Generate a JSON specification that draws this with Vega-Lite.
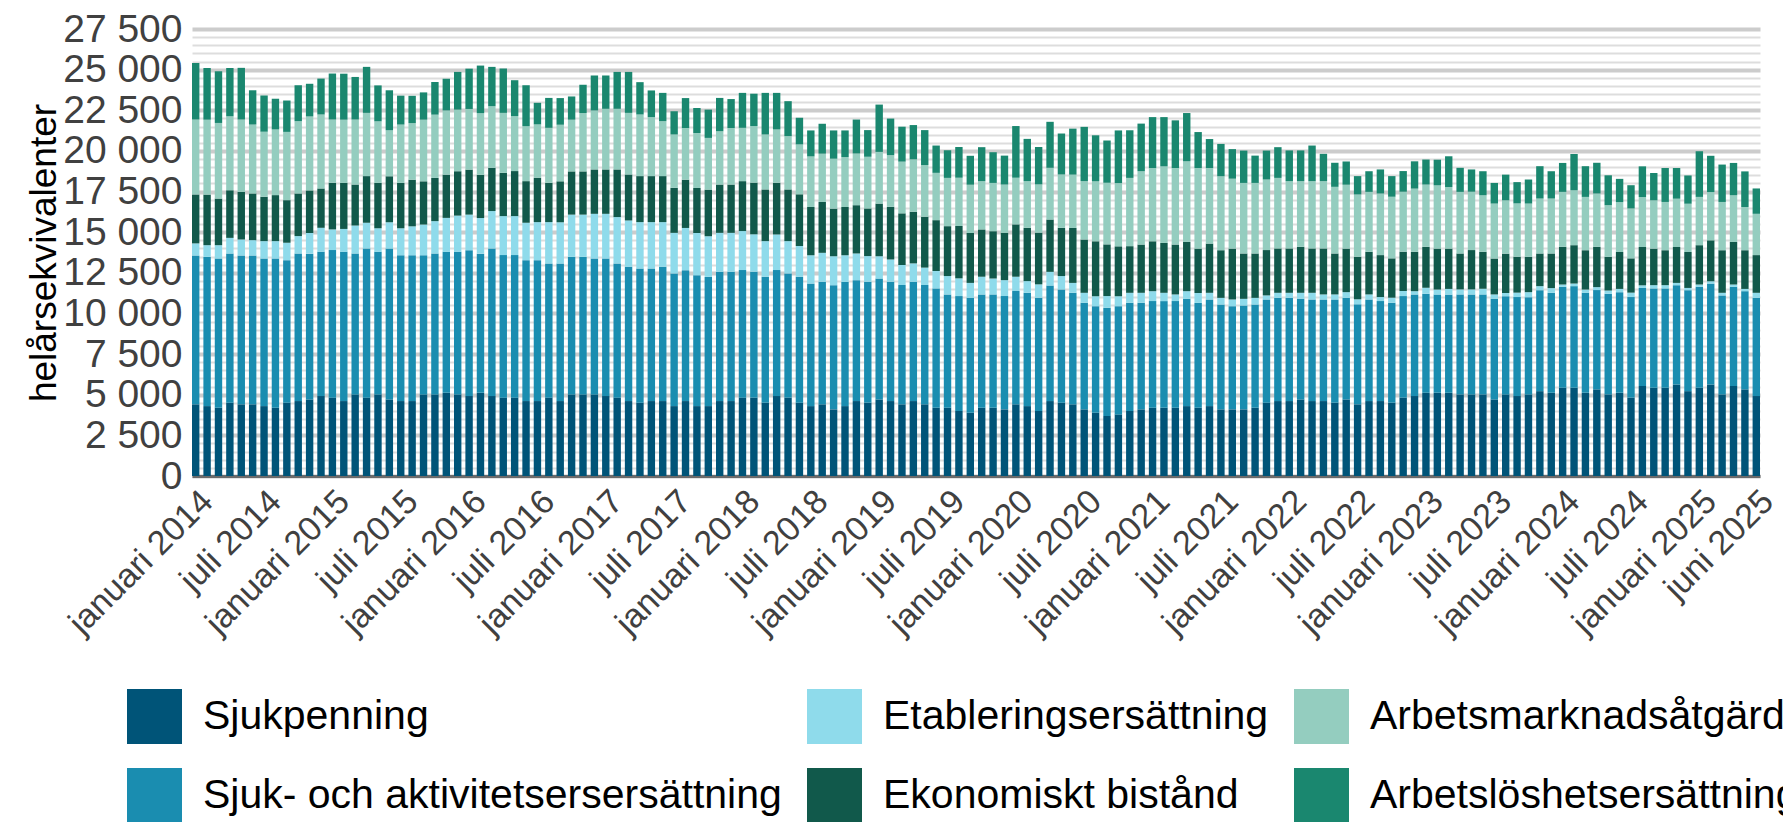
{
  "$schema": "https://vega.github.io/schema/vega-lite/v6.json",
  "autosize": {"type": "none"},
  "width": 1568,
  "height": 447,
  "padding": {"left": 192, "top": 29, "right": 23, "bottom": 346},
  "config": {
    "font": "Liberation Sans",
    "view": {"stroke": null},
    "legend": {"padding": 0}
  },
  "datasets": {
    "ordning": [
      {"serie": "Sjukpenning", "rang": 1},
      {"serie": "Sjuk- och aktivitetsersersättning", "rang": 2},
      {"serie": "Etableringsersättning", "rang": 3},
      {"serie": "Ekonomiskt bistånd", "rang": 4},
      {"serie": "Arbetsmarknadsåtgärder", "rang": 5},
      {"serie": "Arbetslöshetsersättning", "rang": 6}
    ]
  },
  "data": {"values": [
    {"m":"2014-01","Sjukpenning":4410,"Sjuk- och aktivitetsersersättning":9160,"Etableringsersättning":740,"Ekonomiskt bistånd":3010,"Arbetsmarknadsåtgärder":4610,"Arbetslöshetsersättning":3480},
    {"m":"2014-02","Sjukpenning":4300,"Sjuk- och aktivitetsersersättning":9180,"Etableringsersättning":720,"Ekonomiskt bistånd":3110,"Arbetsmarknadsåtgärder":4610,"Arbetslöshetsersättning":3180},
    {"m":"2014-03","Sjukpenning":4200,"Sjuk- och aktivitetsersersättning":9180,"Etableringsersättning":820,"Ekonomiskt bistånd":2870,"Arbetsmarknadsåtgärder":4650,"Arbetslöshetsersättning":3180},
    {"m":"2014-04","Sjukpenning":4510,"Sjuk- och aktivitetsersersättning":9180,"Etableringsersättning":960,"Ekonomiskt bistånd":2930,"Arbetsmarknadsåtgärder":4550,"Arbetslöshetsersättning":2970},
    {"m":"2014-05","Sjukpenning":4410,"Sjuk- och aktivitetsersersättning":9160,"Etableringsersättning":980,"Ekonomiskt bistånd":2930,"Arbetsmarknadsåtgärder":4450,"Arbetslöshetsersättning":3180},
    {"m":"2014-06","Sjukpenning":4410,"Sjuk- och aktivitetsersersättning":9160,"Etableringsersättning":940,"Ekonomiskt bistånd":2870,"Arbetsmarknadsåtgärder":4240,"Arbetslöshetsersättning":2110},
    {"m":"2014-07","Sjukpenning":4300,"Sjuk- och aktivitetsersersättning":9080,"Etableringsersättning":1070,"Ekonomiskt bistånd":2730,"Arbetsmarknadsåtgärder":4000,"Arbetslöshetsersättning":2230},
    {"m":"2014-08","Sjukpenning":4200,"Sjuk- och aktivitetsersersättning":9180,"Etableringsersättning":1070,"Ekonomiskt bistånd":2830,"Arbetsmarknadsåtgärder":4040,"Arbetslöshetsersättning":1890},
    {"m":"2014-09","Sjukpenning":4510,"Sjuk- och aktivitetsersersättning":8770,"Etableringsersättning":1070,"Ekonomiskt bistånd":2620,"Arbetsmarknadsåtgärder":4200,"Arbetslöshetsersättning":1930},
    {"m":"2014-10","Sjukpenning":4610,"Sjuk- och aktivitetsersersättning":9080,"Etableringsersättning":1070,"Ekonomiskt bistånd":2620,"Arbetsmarknadsåtgärder":4450,"Arbetslöshetsersättning":2210},
    {"m":"2014-11","Sjukpenning":4710,"Sjuk- och aktivitetsersersättning":8970,"Etableringsersättning":1270,"Ekonomiskt bistånd":2620,"Arbetsmarknadsåtgärder":4550,"Arbetslöshetsersättning":2010},
    {"m":"2014-12","Sjukpenning":4920,"Sjuk- och aktivitetsersersättning":8870,"Etableringsersättning":1480,"Ekonomiskt bistånd":2420,"Arbetsmarknadsåtgärder":4550,"Arbetslöshetsersättning":2210},
    {"m":"2015-01","Sjukpenning":4820,"Sjuk- och aktivitetsersersättning":9080,"Etableringsersättning":1270,"Ekonomiskt bistånd":2870,"Arbetsmarknadsåtgärder":3890,"Arbetslöshetsersättning":2830},
    {"m":"2015-02","Sjukpenning":4610,"Sjuk- och aktivitetsersersättning":9180,"Etableringsersättning":1410,"Ekonomiskt bistånd":2830,"Arbetsmarknadsåtgärder":3890,"Arbetslöshetsersättning":2830},
    {"m":"2015-03","Sjukpenning":5020,"Sjuk- och aktivitetsersersättning":8670,"Etableringsersättning":1720,"Ekonomiskt bistånd":2520,"Arbetsmarknadsåtgärder":4000,"Arbetslöshetsersättning":2620},
    {"m":"2015-04","Sjukpenning":4820,"Sjuk- och aktivitetsersersättning":9180,"Etableringsersättning":1580,"Ekonomiskt bistånd":2870,"Arbetsmarknadsåtgärder":3890,"Arbetslöshetsersättning":2830},
    {"m":"2015-05","Sjukpenning":5020,"Sjuk- och aktivitetsersersättning":8770,"Etableringsersättning":1450,"Ekonomiskt bistånd":2790,"Arbetsmarknadsåtgärder":3790,"Arbetslöshetsersättning":2210},
    {"m":"2015-06","Sjukpenning":4710,"Sjuk- och aktivitetsersersättning":9280,"Etableringsersättning":1620,"Ekonomiskt bistånd":2830,"Arbetsmarknadsåtgärder":2830,"Arbetslöshetsersättning":2460},
    {"m":"2015-07","Sjukpenning":4610,"Sjuk- och aktivitetsersersättning":8970,"Etableringsersättning":1660,"Ekonomiskt bistånd":2790,"Arbetsmarknadsåtgärder":3590,"Arbetslöshetsersättning":1780},
    {"m":"2015-08","Sjukpenning":4610,"Sjuk- och aktivitetsersersättning":8970,"Etableringsersättning":1780,"Ekonomiskt bistånd":2870,"Arbetsmarknadsåtgärder":3480,"Arbetslöshetsersättning":1680},
    {"m":"2015-09","Sjukpenning":5020,"Sjuk- och aktivitetsersersättning":8560,"Etableringsersättning":1890,"Ekonomiskt bistånd":2660,"Arbetsmarknadsåtgärder":3790,"Arbetslöshetsersättning":1680},
    {"m":"2015-10","Sjukpenning":5020,"Sjuk- och aktivitetsersersättning":8670,"Etableringsersättning":1990,"Ekonomiskt bistånd":2660,"Arbetsmarknadsåtgärder":3890,"Arbetslöshetsersättning":2010},
    {"m":"2015-11","Sjukpenning":5120,"Sjuk- och aktivitetsersersättning":8670,"Etableringsersättning":2090,"Ekonomiskt bistånd":2660,"Arbetsmarknadsåtgärder":3950,"Arbetslöshetsersättning":1950},
    {"m":"2015-12","Sjukpenning":5020,"Sjuk- och aktivitetsersersättning":8770,"Etableringsersättning":2230,"Ekonomiskt bistånd":2730,"Arbetsmarknadsåtgärder":3790,"Arbetslöshetsersättning":2320},
    {"m":"2016-01","Sjukpenning":4920,"Sjuk- och aktivitetsersersättning":8970,"Etableringsersättning":2190,"Ekonomiskt bistånd":2770,"Arbetsmarknadsåtgärder":3730,"Arbetslöshetsersättning":2480},
    {"m":"2016-02","Sjukpenning":5120,"Sjuk- och aktivitetsersersättning":8560,"Etableringsersättning":2190,"Ekonomiskt bistånd":2660,"Arbetsmarknadsåtgärder":3790,"Arbetslöshetsersättning":2930},
    {"m":"2016-03","Sjukpenning":4920,"Sjuk- och aktivitetsersersättning":9080,"Etableringsersättning":2300,"Ekonomiskt bistånd":2660,"Arbetsmarknadsåtgärder":3790,"Arbetslöshetsersättning":2420},
    {"m":"2016-04","Sjukpenning":4820,"Sjuk- och aktivitetsersersättning":8770,"Etableringsersättning":2400,"Ekonomiskt bistånd":2660,"Arbetsmarknadsåtgärder":3690,"Arbetslöshetsersättning":2730},
    {"m":"2016-05","Sjukpenning":4820,"Sjuk- och aktivitetsersersättning":8770,"Etableringsersättning":2400,"Ekonomiskt bistånd":2770,"Arbetsmarknadsåtgärder":3380,"Arbetslöshetsersättning":2210},
    {"m":"2016-06","Sjukpenning":4610,"Sjuk- och aktivitetsersersättning":8670,"Etableringsersättning":2300,"Ekonomiskt bistånd":2560,"Arbetsmarknadsåtgärder":3380,"Arbetslöshetsersättning":2520},
    {"m":"2016-07","Sjukpenning":4610,"Sjuk- och aktivitetsersersättning":8670,"Etableringsersättning":2340,"Ekonomiskt bistånd":2730,"Arbetsmarknadsåtgärder":3280,"Arbetslöshetsersättning":1330},
    {"m":"2016-08","Sjukpenning":4820,"Sjuk- och aktivitetsersersättning":8260,"Etableringsersättning":2540,"Ekonomiskt bistånd":2420,"Arbetsmarknadsåtgärder":3380,"Arbetslöshetsersättning":1840},
    {"m":"2016-09","Sjukpenning":4610,"Sjuk- och aktivitetsersersättning":8460,"Etableringsersättning":2540,"Ekonomiskt bistånd":2520,"Arbetsmarknadsåtgärder":3480,"Arbetslöshetsersättning":1640},
    {"m":"2016-10","Sjukpenning":5020,"Sjuk- och aktivitetsersersättning":8460,"Etableringsersättning":2600,"Ekonomiskt bistånd":2660,"Arbetsmarknadsåtgärder":3180,"Arbetslöshetsersättning":1430},
    {"m":"2016-11","Sjukpenning":5020,"Sjuk- och aktivitetsersersättning":8460,"Etableringsersättning":2600,"Ekonomiskt bistånd":2660,"Arbetsmarknadsåtgärder":3590,"Arbetslöshetsersättning":1740},
    {"m":"2016-12","Sjukpenning":5020,"Sjuk- och aktivitetsersersättning":8360,"Etableringsersättning":2750,"Ekonomiskt bistånd":2730,"Arbetsmarknadsåtgärder":3630,"Arbetslöshetsersättning":2150},
    {"m":"2017-01","Sjukpenning":4920,"Sjuk- och aktivitetsersersättning":8460,"Etableringsersättning":2750,"Ekonomiskt bistånd":2730,"Arbetsmarknadsåtgärder":3730,"Arbetslöshetsersättning":2050},
    {"m":"2017-02","Sjukpenning":4820,"Sjuk- och aktivitetsersersättning":8260,"Etableringsersättning":2850,"Ekonomiskt bistånd":2930,"Arbetsmarknadsåtgärder":3730,"Arbetslöshetsersättning":2270},
    {"m":"2017-03","Sjukpenning":4610,"Sjuk- och aktivitetsersersättning":8260,"Etableringsersättning":2850,"Ekonomiskt bistånd":2830,"Arbetsmarknadsåtgärder":3790,"Arbetslöshetsersättning":2520},
    {"m":"2017-04","Sjukpenning":4510,"Sjuk- och aktivitetsersersättning":8260,"Etableringsersättning":2850,"Ekonomiskt bistånd":2830,"Arbetsmarknadsåtgärder":3790,"Arbetslöshetsersättning":1990},
    {"m":"2017-05","Sjukpenning":4610,"Sjuk- och aktivitetsersersättning":8160,"Etableringsersättning":2850,"Ekonomiskt bistånd":2830,"Arbetsmarknadsåtgärder":3630,"Arbetslöshetsersättning":1640},
    {"m":"2017-06","Sjukpenning":4610,"Sjuk- och aktivitetsersersättning":8260,"Etableringsersättning":2750,"Ekonomiskt bistånd":2830,"Arbetsmarknadsåtgärder":3380,"Arbetslöshetsersättning":1740},
    {"m":"2017-07","Sjukpenning":4300,"Sjuk- och aktivitetsersersättning":8160,"Etableringsersättning":2500,"Ekonomiskt bistånd":2770,"Arbetsmarknadsåtgärder":3280,"Arbetslöshetsersättning":1430},
    {"m":"2017-08","Sjukpenning":4610,"Sjuk- och aktivitetsersersättning":8050,"Etableringsersättning":2600,"Ekonomiskt bistånd":2970,"Arbetsmarknadsåtgärder":3180,"Arbetslöshetsersättning":1840},
    {"m":"2017-09","Sjukpenning":4300,"Sjuk- och aktivitetsersersättning":8050,"Etableringsersättning":2600,"Ekonomiskt bistånd":2770,"Arbetsmarknadsåtgärder":3380,"Arbetslöshetsersättning":1540},
    {"m":"2017-10","Sjukpenning":4300,"Sjuk- och aktivitetsersersättning":7950,"Etableringsersättning":2500,"Ekonomiskt bistånd":2870,"Arbetsmarknadsåtgärder":3180,"Arbetslöshetsersättning":1740},
    {"m":"2017-11","Sjukpenning":4610,"Sjuk- och aktivitetsersersättning":7950,"Etableringsersättning":2400,"Ekonomiskt bistånd":2970,"Arbetsmarknadsåtgärder":3280,"Arbetslöshetsersättning":2050},
    {"m":"2017-12","Sjukpenning":4610,"Sjuk- och aktivitetsersersättning":7950,"Etableringsersättning":2400,"Ekonomiskt bistånd":2970,"Arbetsmarknadsåtgärder":3480,"Arbetslöshetsersättning":1780},
    {"m":"2018-01","Sjukpenning":4820,"Sjuk- och aktivitetsersersättning":7850,"Etableringsersättning":2400,"Ekonomiskt bistånd":3070,"Arbetsmarknadsåtgärder":3280,"Arbetslöshetsersättning":2150},
    {"m":"2018-02","Sjukpenning":4820,"Sjuk- och aktivitetsersersättning":7750,"Etableringsersättning":2300,"Ekonomiskt bistånd":3180,"Arbetsmarknadsåtgärder":3480,"Arbetslöshetsersättning":1990},
    {"m":"2018-03","Sjukpenning":4510,"Sjuk- och aktivitetsersersättning":7750,"Etableringsersättning":2190,"Ekonomiskt bistånd":3180,"Arbetsmarknadsåtgärder":3380,"Arbetslöshetsersättning":2560},
    {"m":"2018-04","Sjukpenning":4920,"Sjuk- och aktivitetsersersättning":7750,"Etableringsersättning":2190,"Ekonomiskt bistånd":3180,"Arbetsmarknadsåtgärder":3280,"Arbetslöshetsersättning":2250},
    {"m":"2018-05","Sjukpenning":4820,"Sjuk- och aktivitetsersersättning":7640,"Etableringsersättning":1990,"Ekonomiskt bistånd":3180,"Arbetsmarknadsåtgärder":3280,"Arbetslöshetsersättning":2150},
    {"m":"2018-06","Sjukpenning":4510,"Sjuk- och aktivitetsersersättning":7750,"Etableringsersättning":1890,"Ekonomiskt bistånd":3180,"Arbetsmarknadsåtgärder":3070,"Arbetslöshetsersättning":1640},
    {"m":"2018-07","Sjukpenning":4300,"Sjuk- och aktivitetsersersättning":7540,"Etableringsersättning":1740,"Ekonomiskt bistånd":2970,"Arbetsmarknadsåtgärder":3110,"Arbetslöshetsersättning":1600},
    {"m":"2018-08","Sjukpenning":4410,"Sjuk- och aktivitetsersersättning":7540,"Etableringsersättning":1780,"Ekonomiskt bistånd":3130,"Arbetsmarknadsåtgärder":2970,"Arbetslöshetsersättning":1840},
    {"m":"2018-09","Sjukpenning":4100,"Sjuk- och aktivitetsersersättning":7640,"Etableringsersättning":1780,"Ekonomiskt bistånd":2930,"Arbetsmarknadsåtgärder":3070,"Arbetslöshetsersättning":1740},
    {"m":"2018-10","Sjukpenning":4300,"Sjuk- och aktivitetsersersättning":7640,"Etableringsersättning":1640,"Ekonomiskt bistånd":2970,"Arbetsmarknadsåtgärder":3070,"Arbetslöshetsersättning":1640},
    {"m":"2018-11","Sjukpenning":4610,"Sjuk- och aktivitetsersersättning":7440,"Etableringsersättning":1640,"Ekonomiskt bistånd":2970,"Arbetsmarknadsåtgärder":3180,"Arbetslöshetsersättning":2090},
    {"m":"2018-12","Sjukpenning":4510,"Sjuk- och aktivitetsersersättning":7440,"Etableringsersättning":1580,"Ekonomiskt bistånd":2930,"Arbetsmarknadsåtgärder":3180,"Arbetslöshetsersättning":1640},
    {"m":"2019-01","Sjukpenning":4710,"Sjuk- och aktivitetsersersättning":7440,"Etableringsersättning":1370,"Ekonomiskt bistånd":3240,"Arbetsmarknadsåtgärder":3180,"Arbetslöshetsersättning":2910},
    {"m":"2019-02","Sjukpenning":4610,"Sjuk- och aktivitetsersersättning":7340,"Etableringsersättning":1370,"Ekonomiskt bistånd":3240,"Arbetsmarknadsåtgärder":3180,"Arbetslöshetsersättning":2250},
    {"m":"2019-03","Sjukpenning":4410,"Sjuk- och aktivitetsersersättning":7340,"Etableringsersättning":1230,"Ekonomiskt bistånd":3180,"Arbetsmarknadsåtgärder":3180,"Arbetslöshetsersättning":2150},
    {"m":"2019-04","Sjukpenning":4610,"Sjuk- och aktivitetsersersättning":7340,"Etableringsersättning":1130,"Ekonomiskt bistånd":3180,"Arbetsmarknadsåtgärder":3220,"Arbetslöshetsersättning":2110},
    {"m":"2019-05","Sjukpenning":4410,"Sjuk- och aktivitetsersersättning":7340,"Etableringsersättning":1070,"Ekonomiskt bistånd":3130,"Arbetsmarknadsåtgärder":3180,"Arbetslöshetsersättning":2150},
    {"m":"2019-06","Sjukpenning":4200,"Sjuk- och aktivitetsersersättning":7340,"Etableringsersättning":1070,"Ekonomiskt bistånd":3130,"Arbetsmarknadsåtgärder":2910,"Arbetslöshetsersättning":1680},
    {"m":"2019-07","Sjukpenning":4200,"Sjuk- och aktivitetsersersättning":6970,"Etableringsersättning":1130,"Ekonomiskt bistånd":3070,"Arbetsmarknadsåtgärder":2970,"Arbetslöshetsersättning":1700},
    {"m":"2019-08","Sjukpenning":4000,"Sjuk- och aktivitetsersersättning":7070,"Etableringsersättning":1090,"Ekonomiskt bistånd":3220,"Arbetsmarknadsåtgärder":2970,"Arbetslöshetsersättning":1890},
    {"m":"2019-09","Sjukpenning":3890,"Sjuk- och aktivitetsersersättning":7070,"Etableringsersättning":920,"Ekonomiskt bistånd":3070,"Arbetsmarknadsåtgärder":2970,"Arbetslöshetsersättning":1780},
    {"m":"2019-10","Sjukpenning":4200,"Sjuk- och aktivitetsersersättning":6970,"Etableringsersättning":1090,"Ekonomiskt bistånd":2910,"Arbetsmarknadsåtgärder":2970,"Arbetslöshetsersättning":2090},
    {"m":"2019-11","Sjukpenning":4200,"Sjuk- och aktivitetsersersättning":6970,"Etableringsersättning":980,"Ekonomiskt bistånd":2910,"Arbetsmarknadsåtgärder":2970,"Arbetslöshetsersättning":1890},
    {"m":"2019-12","Sjukpenning":4100,"Sjuk- och aktivitetsersersättning":6970,"Etableringsersättning":980,"Ekonomiskt bistånd":2910,"Arbetsmarknadsåtgärder":2970,"Arbetslöshetsersättning":1780},
    {"m":"2020-01","Sjukpenning":4410,"Sjuk- och aktivitetsersersättning":6970,"Etableringsersättning":880,"Ekonomiskt bistånd":3220,"Arbetsmarknadsåtgärder":2870,"Arbetslöshetsersättning":3180},
    {"m":"2020-02","Sjukpenning":4300,"Sjuk- och aktivitetsersersättning":6970,"Etableringsersättning":720,"Ekonomiskt bistånd":3280,"Arbetsmarknadsåtgärder":2870,"Arbetslöshetsersättning":2600},
    {"m":"2020-03","Sjukpenning":4000,"Sjuk- och aktivitetsersersättning":6970,"Etableringsersättning":820,"Ekonomiskt bistånd":3180,"Arbetsmarknadsåtgärder":2970,"Arbetslöshetsersättning":2300},
    {"m":"2020-04","Sjukpenning":4610,"Sjuk- och aktivitetsersersättning":7110,"Etableringsersättning":840,"Ekonomiskt bistånd":3220,"Arbetsmarknadsåtgärder":3180,"Arbetslöshetsersättning":2830},
    {"m":"2020-05","Sjukpenning":4510,"Sjuk- och aktivitetsersersättning":6970,"Etableringsersättning":820,"Ekonomiskt bistånd":2970,"Arbetsmarknadsåtgärder":3280,"Arbetslöshetsersättning":2520},
    {"m":"2020-06","Sjukpenning":4410,"Sjuk- och aktivitetsersersättning":6860,"Etableringsersättning":610,"Ekonomiskt bistånd":3380,"Arbetsmarknadsåtgärder":3280,"Arbetslöshetsersättning":2830},
    {"m":"2020-07","Sjukpenning":4100,"Sjuk- och aktivitetsersersättning":6560,"Etableringsersättning":610,"Ekonomiskt bistånd":3280,"Arbetsmarknadsåtgärder":3590,"Arbetslöshetsersättning":3340},
    {"m":"2020-08","Sjukpenning":3890,"Sjuk- och aktivitetsersersättning":6560,"Etableringsersättning":610,"Ekonomiskt bistånd":3380,"Arbetsmarknadsåtgärder":3690,"Arbetslöshetsersättning":2830},
    {"m":"2020-09","Sjukpenning":3690,"Sjuk- och aktivitetsersersättning":6660,"Etableringsersättning":720,"Ekonomiskt bistånd":3180,"Arbetsmarknadsåtgärder":3790,"Arbetslöshetsersättning":2600},
    {"m":"2020-10","Sjukpenning":3790,"Sjuk- och aktivitetsersersättning":6660,"Etableringsersättning":610,"Ekonomiskt bistånd":3070,"Arbetsmarknadsåtgärder":3890,"Arbetslöshetsersättning":3240},
    {"m":"2020-11","Sjukpenning":4000,"Sjuk- och aktivitetsersersättning":6660,"Etableringsersättning":610,"Ekonomiskt bistånd":2870,"Arbetsmarknadsåtgärder":4200,"Arbetslöshetsersättning":2930},
    {"m":"2020-12","Sjukpenning":4100,"Sjuk- och aktivitetsersersättning":6560,"Etableringsersättning":610,"Ekonomiskt bistånd":2970,"Arbetsmarknadsåtgärder":4510,"Arbetslöshetsersättning":2930},
    {"m":"2021-01","Sjukpenning":4200,"Sjuk- och aktivitetsersersättning":6560,"Etableringsersättning":610,"Ekonomiskt bistånd":3070,"Arbetsmarknadsåtgärder":4510,"Arbetslöshetsersättning":3130},
    {"m":"2021-02","Sjukpenning":4200,"Sjuk- och aktivitetsersersättning":6560,"Etableringsersättning":510,"Ekonomiskt bistånd":3070,"Arbetsmarknadsåtgärder":4710,"Arbetslöshetsersättning":3030},
    {"m":"2021-03","Sjukpenning":4200,"Sjuk- och aktivitetsersersättning":6560,"Etableringsersättning":410,"Ekonomiskt bistånd":3070,"Arbetsmarknadsåtgärder":4710,"Arbetslöshetsersättning":2930},
    {"m":"2021-04","Sjukpenning":4300,"Sjuk- och aktivitetsersersättning":6600,"Etableringsersättning":470,"Ekonomiskt bistånd":3030,"Arbetsmarknadsåtgärder":4960,"Arbetslöshetsersättning":2970},
    {"m":"2021-05","Sjukpenning":4200,"Sjuk- och aktivitetsersersättning":6450,"Etableringsersättning":610,"Ekonomiskt bistånd":2730,"Arbetsmarknadsåtgärder":4960,"Arbetslöshetsersättning":2210},
    {"m":"2021-06","Sjukpenning":4300,"Sjuk- och aktivitetsersersättning":6560,"Etableringsersättning":410,"Ekonomiskt bistånd":3030,"Arbetsmarknadsåtgärder":4650,"Arbetslöshetsersättning":1780},
    {"m":"2021-07","Sjukpenning":4100,"Sjuk- och aktivitetsersersättning":6450,"Etableringsersättning":410,"Ekonomiskt bistånd":2930,"Arbetsmarknadsåtgärder":4550,"Arbetslöshetsersättning":1990},
    {"m":"2021-08","Sjukpenning":4100,"Sjuk- och aktivitetsersersättning":6350,"Etableringsersättning":410,"Ekonomiskt bistånd":3130,"Arbetsmarknadsåtgärder":4300,"Arbetslöshetsersättning":1820},
    {"m":"2021-09","Sjukpenning":4100,"Sjuk- och aktivitetsersersättning":6390,"Etableringsersättning":410,"Ekonomiskt bistånd":2790,"Arbetsmarknadsåtgärder":4340,"Arbetslöshetsersättning":1990},
    {"m":"2021-10","Sjukpenning":4200,"Sjuk- och aktivitetsersersättning":6350,"Etableringsersättning":410,"Ekonomiskt bistånd":2730,"Arbetsmarknadsåtgärder":4340,"Arbetslöshetsersättning":1680},
    {"m":"2021-11","Sjukpenning":4510,"Sjuk- och aktivitetsersersättning":6350,"Etableringsersättning":250,"Ekonomiskt bistånd":2790,"Arbetsmarknadsåtgärder":4340,"Arbetslöshetsersättning":1780},
    {"m":"2021-12","Sjukpenning":4610,"Sjuk- och aktivitetsersersättning":6350,"Etableringsersättning":310,"Ekonomiskt bistånd":2730,"Arbetsmarknadsåtgärder":4340,"Arbetslöshetsersättning":1890},
    {"m":"2022-01","Sjukpenning":4610,"Sjuk- och aktivitetsersersättning":6350,"Etableringsersättning":310,"Ekonomiskt bistånd":2730,"Arbetsmarknadsåtgärder":4140,"Arbetslöshetsersättning":1890},
    {"m":"2022-02","Sjukpenning":4710,"Sjuk- och aktivitetsersersättning":6190,"Etableringsersättning":370,"Ekonomiskt bistånd":2830,"Arbetsmarknadsåtgärder":4040,"Arbetslöshetsersättning":1890},
    {"m":"2022-03","Sjukpenning":4610,"Sjuk- och aktivitetsersersättning":6250,"Etableringsersättning":410,"Ekonomiskt bistånd":2730,"Arbetsmarknadsåtgärder":4140,"Arbetslöshetsersättning":2190},
    {"m":"2022-04","Sjukpenning":4610,"Sjuk- och aktivitetsersersättning":6250,"Etableringsersättning":310,"Ekonomiskt bistånd":2830,"Arbetsmarknadsåtgärder":4140,"Arbetslöshetsersättning":1680},
    {"m":"2022-05","Sjukpenning":4510,"Sjuk- och aktivitetsersersättning":6350,"Etableringsersättning":310,"Ekonomiskt bistånd":2520,"Arbetsmarknadsåtgärder":4100,"Arbetslöshetsersättning":1480},
    {"m":"2022-06","Sjukpenning":4710,"Sjuk- och aktivitetsersersättning":6250,"Etableringsersättning":350,"Ekonomiskt bistånd":2680,"Arbetsmarknadsåtgärder":3930,"Arbetslöshetsersättning":1430},
    {"m":"2022-07","Sjukpenning":4410,"Sjuk- och aktivitetsersersättning":6150,"Etableringsersättning":310,"Ekonomiskt bistånd":2620,"Arbetsmarknadsåtgärder":3830,"Arbetslöshetsersättning":1130},
    {"m":"2022-08","Sjukpenning":4610,"Sjuk- och aktivitetsersersättning":6250,"Etableringsersättning":310,"Ekonomiskt bistånd":2620,"Arbetsmarknadsåtgärder":3690,"Arbetslöshetsersättning":1270},
    {"m":"2022-09","Sjukpenning":4610,"Sjuk- och aktivitetsersersättning":6150,"Etableringsersättning":250,"Ekonomiskt bistånd":2580,"Arbetsmarknadsåtgärder":3790,"Arbetslöshetsersättning":1480},
    {"m":"2022-10","Sjukpenning":4510,"Sjuk- och aktivitetsersersättning":6150,"Etableringsersättning":310,"Ekonomiskt bistånd":2420,"Arbetsmarknadsåtgärder":3790,"Arbetslöshetsersättning":1270},
    {"m":"2022-11","Sjukpenning":4820,"Sjuk- och aktivitetsersersättning":6250,"Etableringsersättning":310,"Ekonomiskt bistånd":2420,"Arbetsmarknadsåtgärder":3690,"Arbetslöshetsersättning":1270},
    {"m":"2022-12","Sjukpenning":4920,"Sjuk- och aktivitetsersersättning":6250,"Etableringsersättning":200,"Ekonomiskt bistånd":2420,"Arbetsmarknadsåtgärder":3890,"Arbetslöshetsersättning":1680},
    {"m":"2023-01","Sjukpenning":5120,"Sjuk- och aktivitetsersersättning":6090,"Etableringsersättning":370,"Ekonomiskt bistånd":2520,"Arbetsmarknadsåtgärder":3830,"Arbetslöshetsersättning":1540},
    {"m":"2023-02","Sjukpenning":5120,"Sjuk- och aktivitetsersersättning":6040,"Etableringsersättning":310,"Ekonomiskt bistånd":2520,"Arbetsmarknadsåtgärder":3890,"Arbetslöshetsersättning":1580},
    {"m":"2023-03","Sjukpenning":5120,"Sjuk- och aktivitetsersersättning":6040,"Etableringsersättning":350,"Ekonomiskt bistånd":2480,"Arbetsmarknadsåtgärder":3790,"Arbetslöshetsersättning":1890},
    {"m":"2023-04","Sjukpenning":5020,"Sjuk- och aktivitetsersersättning":6150,"Etableringsersättning":310,"Ekonomiskt bistånd":2210,"Arbetsmarknadsåtgärder":3790,"Arbetslöshetsersättning":1480},
    {"m":"2023-05","Sjukpenning":5020,"Sjuk- och aktivitetsersersättning":6150,"Etableringsersättning":310,"Ekonomiskt bistånd":2420,"Arbetsmarknadsåtgärder":3590,"Arbetslöshetsersättning":1370},
    {"m":"2023-06","Sjukpenning":5020,"Sjuk- och aktivitetsersersättning":6150,"Etableringsersättning":350,"Ekonomiskt bistånd":2270,"Arbetsmarknadsåtgärder":3480,"Arbetslöshetsersättning":1480},
    {"m":"2023-07","Sjukpenning":4710,"Sjuk- och aktivitetsersersättning":6190,"Etableringsersättning":270,"Ekonomiskt bistånd":2210,"Arbetsmarknadsåtgärder":3380,"Arbetslöshetsersättning":1270},
    {"m":"2023-08","Sjukpenning":5020,"Sjuk- och aktivitetsersersättning":6040,"Etableringsersättning":200,"Ekonomiskt bistånd":2420,"Arbetsmarknadsåtgärder":3280,"Arbetslöshetsersättning":1580},
    {"m":"2023-09","Sjukpenning":4920,"Sjuk- och aktivitetsersersättning":6090,"Etableringsersättning":270,"Ekonomiskt bistånd":2210,"Arbetsmarknadsåtgärder":3280,"Arbetslöshetsersättning":1310},
    {"m":"2023-10","Sjukpenning":5020,"Sjuk- och aktivitetsersersättning":5980,"Etableringsersättning":310,"Ekonomiskt bistånd":2170,"Arbetsmarknadsåtgärder":3280,"Arbetslöshetsersättning":1480},
    {"m":"2023-11","Sjukpenning":5220,"Sjuk- och aktivitetsersersättning":6210,"Etableringsersättning":250,"Ekonomiskt bistånd":2010,"Arbetsmarknadsåtgärder":3380,"Arbetslöshetsersättning":1990},
    {"m":"2023-12","Sjukpenning":5120,"Sjuk- och aktivitetsersersättning":6150,"Etableringsersättning":290,"Ekonomiskt bistånd":2130,"Arbetsmarknadsåtgärder":3380,"Arbetslöshetsersättning":1680},
    {"m":"2024-01","Sjukpenning":5430,"Sjuk- och aktivitetsersersättning":6210,"Etableringsersättning":140,"Ekonomiskt bistånd":2320,"Arbetsmarknadsåtgärder":3380,"Arbetslöshetsersättning":1780},
    {"m":"2024-02","Sjukpenning":5430,"Sjuk- och aktivitetsersersättning":6250,"Etableringsersättning":160,"Ekonomiskt bistånd":2360,"Arbetsmarknadsåtgärder":3380,"Arbetslöshetsersättning":2230},
    {"m":"2024-03","Sjukpenning":5120,"Sjuk- och aktivitetsersersättning":6150,"Etableringsersättning":200,"Ekonomiskt bistånd":2420,"Arbetsmarknadsåtgärder":3280,"Arbetslöshetsersättning":1890},
    {"m":"2024-04","Sjukpenning":5330,"Sjuk- och aktivitetsersersättning":6110,"Etableringsersättning":180,"Ekonomiskt bistånd":2480,"Arbetsmarknadsåtgärder":3280,"Arbetslöshetsersättning":1890},
    {"m":"2024-05","Sjukpenning":5020,"Sjuk- och aktivitetsersersättning":6190,"Etableringsersättning":200,"Ekonomiskt bistånd":2070,"Arbetsmarknadsåtgärder":3180,"Arbetslöshetsersättning":1840},
    {"m":"2024-06","Sjukpenning":5120,"Sjuk- och aktivitetsersersättning":6190,"Etableringsersättning":200,"Ekonomiskt bistånd":2270,"Arbetsmarknadsåtgärder":3070,"Arbetslöshetsersättning":1430},
    {"m":"2024-07","Sjukpenning":4820,"Sjuk- och aktivitetsersersättning":6190,"Etableringsersättning":270,"Ekonomiskt bistånd":2110,"Arbetsmarknadsåtgärder":3070,"Arbetslöshetsersättning":1430},
    {"m":"2024-08","Sjukpenning":5530,"Sjuk- och aktivitetsersersättning":6040,"Etableringsersättning":160,"Ekonomiskt bistånd":2360,"Arbetsmarknadsåtgärder":3070,"Arbetslöshetsersättning":1890},
    {"m":"2024-09","Sjukpenning":5430,"Sjuk- och aktivitetsersersättning":6110,"Etableringsersättning":200,"Ekonomiskt bistånd":2250,"Arbetsmarknadsåtgärder":2970,"Arbetslöshetsersättning":1680},
    {"m":"2024-10","Sjukpenning":5430,"Sjuk- och aktivitetsersersättning":6110,"Etableringsersättning":200,"Ekonomiskt bistånd":2150,"Arbetsmarknadsåtgärder":2970,"Arbetslöshetsersättning":2090},
    {"m":"2024-11","Sjukpenning":5630,"Sjuk- och aktivitetsersersättning":6110,"Etableringsersättning":140,"Ekonomiskt bistånd":2210,"Arbetsmarknadsåtgärder":2970,"Arbetslöshetsersättning":1890},
    {"m":"2024-12","Sjukpenning":5220,"Sjuk- och aktivitetsersersättning":6210,"Etableringsersättning":140,"Ekonomiskt bistånd":2210,"Arbetsmarknadsåtgärder":2970,"Arbetslöshetsersättning":1740},
    {"m":"2025-01","Sjukpenning":5430,"Sjuk- och aktivitetsersersättning":6210,"Etableringsersättning":140,"Ekonomiskt bistånd":2420,"Arbetsmarknadsåtgärder":2970,"Arbetslöshetsersättning":2810},
    {"m":"2025-02","Sjukpenning":5630,"Sjuk- och aktivitetsersersättning":6210,"Etableringsersättning":140,"Ekonomiskt bistånd":2520,"Arbetsmarknadsåtgärder":2970,"Arbetslöshetsersättning":2230},
    {"m":"2025-03","Sjukpenning":5020,"Sjuk- och aktivitetsersersättning":6090,"Etableringsersättning":160,"Ekonomiskt bistånd":2620,"Arbetsmarknadsåtgärder":2970,"Arbetslöshetsersättning":2300},
    {"m":"2025-04","Sjukpenning":5530,"Sjuk- och aktivitetsersersättning":6110,"Etableringsersättning":140,"Ekonomiskt bistånd":2620,"Arbetsmarknadsåtgärder":2870,"Arbetslöshetsersättning":1990},
    {"m":"2025-05","Sjukpenning":5330,"Sjuk- och aktivitetsersersättning":6040,"Etableringsersättning":140,"Ekonomiskt bistånd":2380,"Arbetsmarknadsåtgärder":2660,"Arbetslöshetsersättning":2190},
    {"m":"2025-06","Sjukpenning":4920,"Sjuk- och aktivitetsersersättning":6040,"Etableringsersättning":310,"Ekonomiskt bistånd":2320,"Arbetsmarknadsåtgärder":2540,"Arbetslöshetsersättning":1560}
  ]},
  "transform": [
    {"fold": ["Sjukpenning", "Sjuk- och aktivitetsersersättning", "Etableringsersättning", "Ekonomiskt bistånd", "Arbetsmarknadsåtgärder", "Arbetslöshetsersättning"], "as": ["serie", "varde"]},
    {"lookup": "serie", "from": {"data": {"name": "ordning"}, "key": "serie", "fields": ["rang"]}}
  ],
  "mark": {"type": "bar"},
  "encoding": {
    "x": {
      "field": "m", "type": "ordinal",
      "scale": {"paddingInner": 0.35, "paddingOuter": 0},
      "axis": {
        "title": null,
        "values": ["2014-01","2014-07","2015-01","2015-07","2016-01","2016-07","2017-01","2017-07","2018-01","2018-07","2019-01","2019-07","2020-01","2020-07","2021-01","2021-07","2022-01","2022-07","2023-01","2023-07","2024-01","2024-07","2025-01","2025-06"],
        "labelExpr": "(substring(datum.value,5,7)=='01' ? 'januari ' : substring(datum.value,5,7)=='07' ? 'juli ' : 'juni ') + substring(datum.value,0,4)",
        "labelAngle": -45,
        "labelFontSize": 34,
        "labelLimit": 0,
        "labelColor": "#404040",
        "labelPadding": 8,
        "ticks": false,
        "domainColor": "#6b6b6b",
        "domainWidth": 3,
        "grid": false
      }
    },
    "y": {
      "field": "varde", "type": "quantitative", "stack": "zero",
      "scale": {"domain": [0, 27500], "nice": false},
      "axis": {
        "title": "helårsekvivalenter",
        "titleFontSize": 37,
        "titleFontWeight": "normal",
        "titleColor": "#000000",
        "titlePadding": -1,
        "values": [0,500,1000,1500,2000,2500,3000,3500,4000,4500,5000,5500,6000,6500,7000,7500,8000,8500,9000,9500,10000,10500,11000,11500,12000,12500,13000,13500,14000,14500,15000,15500,16000,16500,17000,17500,18000,18500,19000,19500,20000,20500,21000,21500,22000,22500,23000,23500,24000,24500,25000,25500,26000,26500,27000,27500],
        "labelExpr": "datum.value % 2500 === 0 ? replace(format(datum.value, ','), ',', ' ') : ''",
        "labelFontSize": 39,
        "labelColor": "#404040",
        "labelPadding": 10,
        "ticks": false,
        "domain": false,
        "labelOverlap": false,
        "gridColor": {"condition": {"test": "datum.value % 2500 === 0", "value": "#cccccc"}, "value": "#dddddd"},
        "gridWidth": {"condition": {"test": "datum.value % 2500 === 0", "value": 4}, "value": 2}
      }
    },
    "color": {
      "field": "serie", "type": "nominal",
      "scale": {
        "domain": ["Sjukpenning", "Etableringsersättning", "Arbetsmarknadsåtgärder", "Sjuk- och aktivitetsersersättning", "Ekonomiskt bistånd", "Arbetslöshetsersättning"],
        "range": ["#005478", "#8fdbeb", "#94cdbf", "#1a8db0", "#11594b", "#1a876f"]
      },
      "legend": {
        "title": null,
        "orient": "none",
        "legendX": -65,
        "legendY": 660,
        "direction": "horizontal",
        "columns": 3,
        "symbolType": "square",
        "symbolSize": 3025,
        "symbolStrokeWidth": 0,
        "labelFontSize": 41,
        "labelColor": "#000000",
        "labelOffset": 21,
        "labelLimit": 0,
        "columnPadding": 25,
        "rowPadding": 24
      }
    },
    "order": {"field": "rang", "type": "quantitative", "sort": "ascending"}
  }
}
